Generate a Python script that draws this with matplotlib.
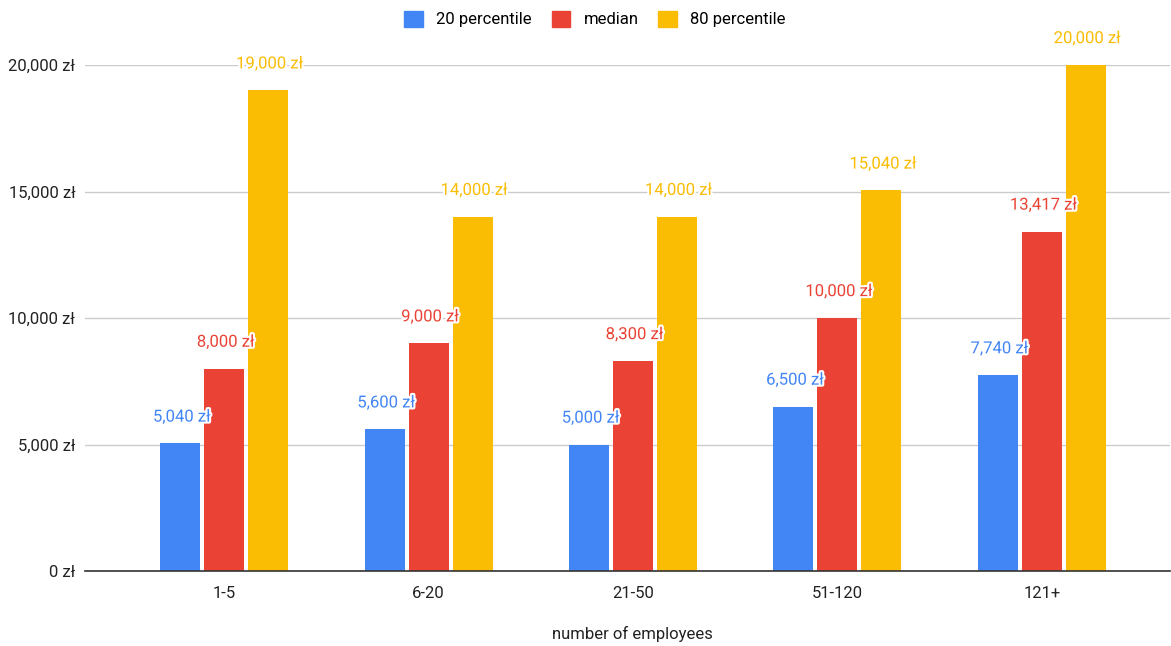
import matplotlib
matplotlib.use("Agg")
import matplotlib.pyplot as plt
import matplotlib.patheffects as pe
from matplotlib.patches import Patch
import numpy as np

plt.rcParams['font.family'] = ['Roboto', 'DejaVu Sans']

categories = ["1-5", "6-20", "21-50", "51-120", "121+"]
series_names = ["20 percentile", "median", "80 percentile"]
p20 = [5040, 5600, 5000, 6500, 7740]
median = [8000, 9000, 8300, 10000, 13417]
p80 = [19000, 14000, 14000, 15040, 20000]
yticks = [0, 5000, 10000, 15000, 20000]

colors = ["#4285F4", "#EA4335", "#FBBC04"]

W, H = 1171, 646
fig = plt.figure(figsize=(W / 100, H / 100), dpi=100)
ax = fig.add_axes([85 / W, (H - 571) / H, (1170 - 85) / W, (571 - 65) / H])

x = np.arange(len(categories))
width = 0.196
step = 0.215
fs = 12

def fmt(v):
    return f"{v:,} zł"

for i, (vals, col) in enumerate(zip([p20, median, p80], colors)):
    xs = x + (i - 1) * step
    ax.bar(xs, vals, width=width, color=col, zorder=3)
    for xi, v in zip(xs, vals):
        ax.annotate(fmt(v), (xi, v), xytext=(1, 19), textcoords="offset points",
                    ha="center", va="center", fontsize=fs, color=col,
                    annotation_clip=False, zorder=4,
                    path_effects=[pe.withStroke(linewidth=3, foreground="white")])

ax.set_xlim(-0.5 - 37 / 204.5, 4.5 + 26 / 204.5)
ax.set_ylim(0, 20000)
ax.set_yticks(yticks)
ax.set_yticklabels([fmt(v) for v in yticks], fontsize=fs, color="#222222")
ax.set_xticks(x)
ax.set_xticklabels(categories, fontsize=fs, color="#222222")
ax.tick_params(axis="both", length=0)
ax.tick_params(axis="x", pad=11)
ax.tick_params(axis="y", pad=7)
ax.grid(axis="y", color="#cccccc", linewidth=1, zorder=0)
for s in ["top", "right", "left"]:
    ax.spines[s].set_visible(False)
ax.spines["bottom"].set_color("#333333")
ax.spines["bottom"].set_linewidth(1.2)
ax.spines["bottom"].set_zorder(5)
fig.text(632 / W, 1 - 634 / H, "number of employees", fontsize=fs, color="#222222",
         ha="center", va="center")

handles = [Patch(facecolor=c, edgecolor=c) for c in colors]
fig.legend(handles, series_names, loc="center", bbox_to_anchor=(595 / W, 1 - 19 / H),
           ncol=3, frameon=False, fontsize=fs, handlelength=1.1, handleheight=1.1,
           columnspacing=1.2, handletextpad=0.8)

fig.savefig("out.png", dpi=100, facecolor="white")
